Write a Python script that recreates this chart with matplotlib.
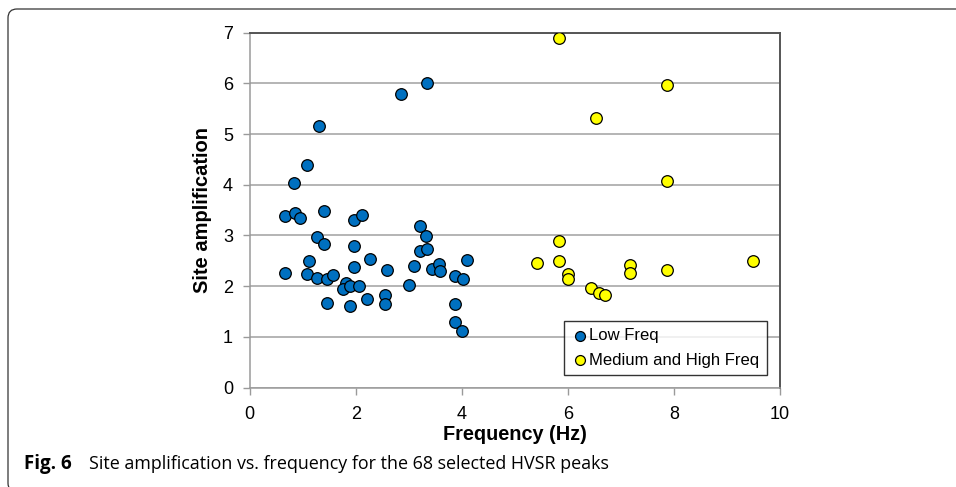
import matplotlib
matplotlib.use('Agg')
import matplotlib.pyplot as plt
from matplotlib.patches import FancyBboxPatch
from matplotlib.transforms import IdentityTransform

# Low frequency peaks (Hz, amplification)
low_freq = [3.34, 2.85, 1.30, 1.08, 0.83,
            0.66, 0.85, 0.95, 1.41, 1.97, 2.12, 3.21, 3.33, 3.21, 3.34,
            1.26, 1.41, 1.97, 1.12, 0.66, 1.08, 1.26, 1.46, 1.58, 1.97,
            2.26, 2.58, 3.09, 3.43, 3.57, 3.59, 4.10, 3.87, 4.02, 1.82,
            1.76, 1.89, 2.06, 3.00, 1.46, 1.89, 2.21, 2.56, 2.56, 3.88,
            3.88, 4.00]
low_amp = [6.01, 5.80, 5.16, 4.38, 4.03,
           3.38, 3.45, 3.34, 3.48, 3.31, 3.41, 3.19, 2.99, 2.69, 2.73,
           2.96, 2.83, 2.79, 2.49, 2.25, 2.24, 2.17, 2.14, 2.21, 2.38,
           2.53, 2.32, 2.40, 2.34, 2.44, 2.30, 2.51, 2.19, 2.15, 2.07,
           1.94, 2.00, 2.00, 2.02, 1.66, 1.61, 1.75, 1.82, 1.65, 1.65,
           1.30, 1.12]

# Medium and high frequency peaks
high_freq = [5.84, 7.87, 6.53, 7.87, 5.84, 5.42, 5.84, 6.01, 6.01,
             7.18, 7.18, 7.87, 9.50, 6.44, 6.59, 6.70]
high_amp = [6.89, 5.96, 5.31, 4.07, 2.89, 2.46, 2.50, 2.24, 2.15,
            2.42, 2.26, 2.31, 2.50, 1.96, 1.86, 1.82]

x_ticks = [0, 2, 4, 6, 8, 10]
y_ticks = [0, 1, 2, 3, 4, 5, 6, 7]

plt.rcParams['font.family'] = ['Liberation Sans', 'DejaVu Sans']

fig = plt.figure(figsize=(9.56, 4.87), dpi=100)

# rounded frame round the figure panel (pixel coords), bottom edge cut off
frame = FancyBboxPatch((8, -5), 1000, 483,
                       boxstyle='round,pad=0,rounding_size=9',
                       transform=IdentityTransform(), fill=False,
                       edgecolor='#333333', linewidth=0.9, clip_on=False)
fig.patches.append(frame)

ax = fig.add_axes([0.2612, 0.2043, 0.5547, 0.7286])

ax.scatter(low_freq, low_amp, s=70, color='#0070C0', edgecolors='black',
           linewidths=0.9, label='Low Freq', zorder=3)
ax.scatter(high_freq, high_amp, s=70, color='#FFFF00', edgecolors='black',
           linewidths=0.9, label='Medium and High Freq', zorder=3)

ax.set_xlim(0, 10)
ax.set_ylim(0, 7)
ax.set_xticks(x_ticks)
ax.set_yticks(y_ticks)
ax.yaxis.grid(True, color='#A0A0A0', linewidth=1.1)
ax.set_axisbelow(True)

for side in ['left', 'bottom']:
    ax.spines[side].set_color('#9A9A9A')
    ax.spines[side].set_linewidth(1.1)
for side in ['top', 'right']:
    ax.spines[side].set_color('#555555')
    ax.spines[side].set_linewidth(1.4)

ax.tick_params(axis='both', direction='out', length=5, width=1,
               color='#9A9A9A', labelsize=13, labelcolor='black')
ax.tick_params(axis='y', pad=7)
ax.tick_params(axis='x', pad=8)

ax.set_xlabel('Frequency (Hz)', fontsize=14.3, fontweight='bold', labelpad=2)
ax.set_ylabel('Site amplification', fontsize=14.5, fontweight='bold', labelpad=8)

leg = ax.legend(loc='lower right', bbox_to_anchor=(0.9755, 0.035), fontsize=12,
                frameon=True, fancybox=False, edgecolor='black',
                handletextpad=0.0, markerscale=0.85, borderpad=0.45,
                labelspacing=0.55, handlelength=1.1, borderaxespad=0)
leg.get_frame().set_linewidth(1.0)

# caption under the figure
fig.text(24 / 956, 1 - 464 / 487, 'Fig. 6', fontsize=13.5, fontweight='bold',
         family=['Open Sans', 'DejaVu Sans'], va='center', ha='left')
fig.text(89 / 956, 1 - 464 / 487,
         'Site amplification vs. frequency for the 68 selected HVSR peaks',
         fontsize=12.9, family=['Open Sans', 'DejaVu Sans'], va='center', ha='left')

fig.savefig('out.png', dpi=100)
